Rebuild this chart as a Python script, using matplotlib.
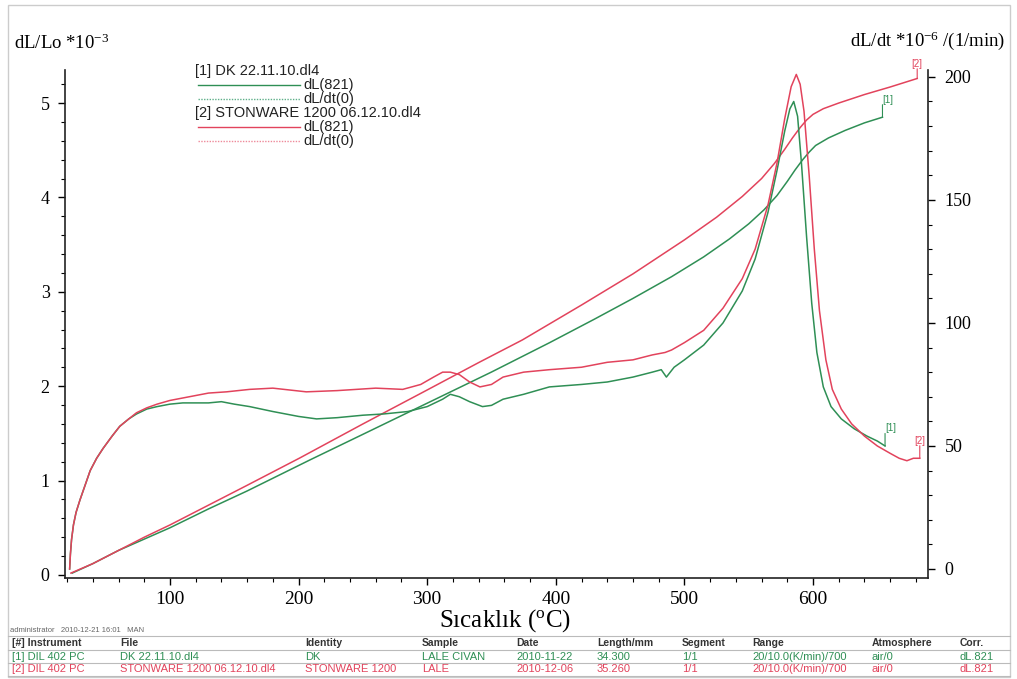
import matplotlib
matplotlib.use("Agg")
import matplotlib.pyplot as plt
from matplotlib.ticker import MultipleLocator
from matplotlib.lines import Line2D
from matplotlib.patches import Rectangle

# ---------------- data ----------------
# [1] DK 22.11.10  -- relative expansion dL/Lo (x1e-3)
dk_dl_temp = [24, 40, 60, 80, 100, 130, 160, 209, 250, 300, 350, 395, 430, 460, 490,
              515, 535, 550, 562, 572, 580, 586, 592, 597, 602, 612, 625, 640, 654]
dk_dl = [0.02, 0.12, 0.26, 0.38, 0.50, 0.70, 0.89, 1.22, 1.49, 1.82, 2.15, 2.46, 2.71, 2.93, 3.16,
         3.37, 3.56, 3.72, 3.87, 4.02, 4.17, 4.29, 4.40, 4.48, 4.55, 4.63, 4.71, 4.79, 4.85]

# [1] DK 22.11.10  -- expansion rate dL/dt (x1e-6 1/min)
dk_rate_temp = [22, 22.6, 23.5, 25, 27, 30, 34, 38, 43, 48, 55, 61, 68, 74, 82, 90, 100, 110, 120,
                130, 140, 150, 162, 180, 200, 214, 230, 250, 266, 285, 300, 312, 318, 325, 333,
                343, 350, 359, 375, 395, 420, 440, 460, 475, 482, 486, 492, 500, 515, 530, 545,
                555, 565, 572, 578, 582, 585, 588, 591, 595, 599, 603, 608, 614, 622, 632, 642,
                650, 656]
dk_rate = [0, 6, 12, 18, 23, 28, 34, 40, 45, 49, 54, 58, 61, 63, 65, 66, 67, 67.5, 67.5,
           67.5, 68, 67, 66, 64, 62, 61, 61.5, 62.5, 63, 64, 66, 69, 71, 70, 68,
           66, 66.5, 69, 71, 74, 75, 76, 78, 80, 81, 78, 82, 85, 91, 100, 113,
           126, 145, 162, 178, 187, 190, 184, 165, 135, 108, 88, 74, 66, 61, 57, 54,
           52, 50]

# [2] STONWARE 1200 06.12.10  -- relative expansion dL/Lo (x1e-3)
sw_dl_temp = [23, 40, 60, 80, 100, 130, 160, 201, 250, 300, 340, 374, 420, 460, 500,
              525, 545, 560, 570, 578, 584, 590, 595, 600, 608, 620, 640, 660, 681]
sw_dl = [0.02, 0.12, 0.26, 0.40, 0.53, 0.74, 0.95, 1.24, 1.60, 1.96, 2.25, 2.49, 2.86, 3.19, 3.55,
         3.79, 4.01, 4.20, 4.36, 4.51, 4.63, 4.74, 4.82, 4.88, 4.94, 5.00, 5.09, 5.17, 5.26]

# [2] STONWARE 1200 06.12.10  -- expansion rate dL/dt (x1e-6 1/min)
sw_rate_temp = [22, 22.6, 23.5, 25, 27, 30, 34, 38, 43, 48, 55, 61, 68, 74, 82, 90, 100, 110, 120,
                130, 144, 162, 180, 206, 230, 260, 281, 295, 305, 312, 318, 325, 333, 341, 350,
                359, 375, 395, 420, 440, 460, 475, 485, 490, 500, 515, 530, 545, 555, 565, 572,
                578, 583, 587, 590, 593, 597, 601, 605, 610, 615, 622, 630, 640, 650, 660, 667,
                673, 678, 683]
sw_rate = [0, 6, 12, 18, 23, 28, 34, 40, 45, 49, 54, 58, 61, 63.5, 65.5, 67, 68.5, 69.5, 70.5,
           71.5, 72, 73, 73.5, 72, 72.5, 73.5, 73, 75, 78, 80, 80, 79, 76, 74, 75,
           78, 80, 81, 82, 84, 85, 87, 88, 89, 92, 97, 106, 118, 130, 148, 165,
           183, 196, 201, 197, 186, 160, 130, 105, 85, 73, 65, 59, 54, 50, 47, 45,
           44, 45, 45]

x_ticks = [100, 200, 300, 400, 500, 600]
left_ticks = [0, 1, 2, 3, 4, 5]
right_ticks = [0, 50, 100, 150, 200]

table_header = ["[#] Instrument", "File", "Identity", "Sample", "Date", "Length/mm",
                "Segment", "Range", "Atmosphere", "Corr."]
table_row1 = ["[1] DIL 402 PC", "DK 22.11.10.dl4", "DK", "LALE CIVAN", "2010-11-22",
              "34.300", "1/1", "20/10.0(K/min)/700", "air/0", "dL.821"]
table_row2 = ["[2] DIL 402 PC", "STONWARE 1200 06.12.10.dl4", "STONWARE 1200", "LALE",
              "2010-12-06", "35.260", "1/1", "20/10.0(K/min)/700", "air/0", "dL.821"]

# ---------------- styling ----------------
GREEN = "#2f8f55"
RED = "#e2435c"
SERIF = "Liberation Serif"
SANS = "Liberation Sans"
plt.rcParams["mathtext.default"] = "regular"

W, H = 1017, 679
fig = plt.figure(figsize=(W / 100, H / 100), dpi=100)


def fx(x):
    return x / W


def fy(y):
    return 1 - y / H


# plot area: x 65..928 px, y 70..578 px
ax = fig.add_axes([fx(65), fy(578), fx(928) - fx(65), fy(70) - fy(578)])
ax2 = ax.twinx()

ax.set_xlim(18.4, 689.4)
ax.set_ylim(-0.032, 5.35)
ax2.set_ylim(-3.66, 202.8)

ax.plot(dk_dl_temp, dk_dl, color=GREEN, lw=1.1)
ax.plot(sw_dl_temp, sw_dl, color=RED, lw=1.1)
ax2.plot(dk_rate_temp, dk_rate, color=GREEN, lw=1.1)
ax2.plot(sw_rate_temp, sw_rate, color=RED, lw=1.1)

# spines
for s in ("top", "right"):
    ax.spines[s].set_visible(False)
for s in ("top", "left", "bottom"):
    ax2.spines[s].set_visible(False)
for sp in (ax.spines["left"], ax.spines["bottom"], ax2.spines["right"]):
    sp.set_linewidth(1.2)
    sp.set_color("#222222")

ax.set_xticks(x_ticks)
ax.xaxis.set_minor_locator(MultipleLocator(20))
ax.set_yticks(left_ticks)
ax.yaxis.set_minor_locator(MultipleLocator(0.2))
ax2.set_yticks(right_ticks)
ax2.yaxis.set_minor_locator(MultipleLocator(10))

ax.tick_params(axis="x", which="major", direction="out", length=5, width=1, pad=4, labelsize=14)
ax.tick_params(axis="x", which="minor", direction="out", length=3, width=0.8)
ax.tick_params(axis="y", which="major", direction="out", length=5, width=1, pad=6, labelsize=13)
ax.tick_params(axis="y", which="minor", direction="out", length=3, width=0.8)
ax2.tick_params(axis="y", which="major", direction="out", length=5, width=1, pad=7, labelsize=13)
ax2.tick_params(axis="y", which="minor", direction="out", length=3, width=0.8)
for lab in ax.get_xticklabels() + ax.get_yticklabels() + ax2.get_yticklabels():
    lab.set_fontfamily(SERIF)


# end-of-curve markers: short vertical stub with the file index above it
def end_mark(axis, xs, ys, text, color, dy=9, ha="left"):
    axis.annotate("", xy=(xs[-1], ys[-1]), xytext=(0, dy), textcoords="offset points",
                  arrowprops=dict(arrowstyle="-", color=color, lw=0.8, shrinkA=0, shrinkB=0))
    axis.annotate(text, xy=(xs[-1], ys[-1]), xytext=(0, dy), textcoords="offset points",
                  ha=ha, va="bottom", fontsize=7, color=color, family=SANS)


end_mark(ax, dk_dl_temp, dk_dl, "[1]", GREEN)
end_mark(ax, sw_dl_temp, sw_dl, "[2]", RED, dy=7, ha="center")
end_mark(ax2, dk_rate_temp, dk_rate, "[1]", GREEN)
end_mark(ax2, sw_rate_temp, sw_rate, "[2]", RED, ha="center")

# axis titles
fig.text(fx(14), fy(43), "dL/Lo *10$^{-3}$", family=SERIF, fontsize=13.5, va="center", ha="left")
fig.text(fx(1005), fy(41), "dL/dt *10$^{-6}$ /(1/min)", family=SERIF, fontsize=13.5,
         va="center", ha="right")
fig.text(fx(505), fy(621), "Sıcaklık ($^{o}$C)", family=SERIF, fontsize=18,
         va="center", ha="center")

# legend block
legend_items = [
    ("head", "[1] DK 22.11.10.dl4", None, None),
    ("line", "dL(821)", GREEN, "-"),
    ("line", "dL/dt(0)", "#5fb08a", (0, (1, 1))),
    ("head", "[2] STONWARE 1200 06.12.10.dl4", None, None),
    ("line", "dL(821)", RED, "-"),
    ("line", "dL/dt(0)", "#ee8a9a", (0, (1, 1))),
]
ly = [71, 85, 99, 113, 127, 141]
for (kind, label, col, ls), yy in zip(legend_items, ly):
    if kind == "head":
        fig.text(fx(195), fy(yy), label, family=SANS, fontsize=10.5, va="center", color="#222222")
    else:
        fig.add_artist(Line2D([fx(198), fx(300)], [fy(yy), fy(yy)], color=col, lw=1.0,
                              linestyle=ls, transform=fig.transFigure))
        fig.text(fx(303), fy(yy), label, family=SANS, fontsize=10.5, va="center", color="#222222")

# info table below the plot
fig.text(fx(10), fy(630), "administrator   2010-12-21 16:01   MAN", family=SANS, fontsize=5.5,
         color="#666666", va="center")
col_x = [12, 120, 305, 422, 516, 597, 682, 752, 872, 960]
for yline in (636, 650, 663, 676):
    fig.add_artist(Line2D([fx(8), fx(1010)], [fy(yline), fy(yline)], color="#bbbbbb", lw=0.8,
                          transform=fig.transFigure))
for cx, h, r1, r2 in zip(col_x, table_header, table_row1, table_row2):
    fig.text(fx(cx), fy(643), h, family=SANS, fontsize=7.5, weight="bold", color="#333333",
             va="center")
    fig.text(fx(cx), fy(656.5), r1, family=SANS, fontsize=8, color=GREEN, va="center")
    fig.text(fx(cx), fy(669.5), r2, family=SANS, fontsize=8, color=RED, va="center")

# outer frame
fig.add_artist(Rectangle((fx(8), fy(677)), fx(1010) - fx(8), fy(5) - fy(677),
                         transform=fig.transFigure, fill=False, edgecolor="#cccccc", lw=1.0))

fig.savefig("out.png", dpi=100)
